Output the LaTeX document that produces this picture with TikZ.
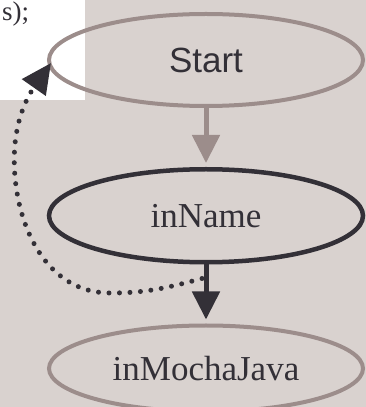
\documentclass[tikz,border=0pt]{standalone}
\usepackage{fontspec}
\setmainfont{Liberation Serif}
\setsansfont{Liberation Sans}
\usetikzlibrary{shapes.geometric,positioning,arrows.meta}
\definecolor{bgcol}{HTML}{D9D2CF}
\definecolor{edgegray}{HTML}{9C8D8B}
\definecolor{darkink}{HTML}{333037}

\begin{document}
\begin{tikzpicture}[x=1pt,y=1pt,
    state/.style={ellipse,draw,line width=4pt,inner sep=0pt,
      minimum width=314pt,minimum height=92pt,text=darkink,
      font=\fontsize{35}{42}\selectfont},
    flow/.style={line width=5pt,-{Triangle[length=28pt,width=27pt]},
      shorten >=4pt}]
      \fill[bgcol] (0,0) rectangle (366,407);
      \fill[white] (0,307) rectangle (85,407);
      \useasboundingbox (0,0) rectangle (366,407);

      \node[anchor=base west,inner sep=0pt,text=darkink,
        font=\fontsize{27}{32}\selectfont] (code) at (2,386) {s);};

      \node[state,draw=edgegray,font=\sffamily\fontsize{35}{42}\selectfont]
      (start) at (206,347) {\raisebox{-3pt}{Start}};
      \node[state,draw=darkink,line width=4.5pt,minimum height=93pt,
        below=59pt of start] (name) {\raisebox{-3pt}{inName}};
      \node[state,draw=edgegray,minimum height=86pt,below=59pt of name]
      (mocha) {inMochaJava};

      \draw[flow,edgegray] (start.south) -- (name.north);
      \draw[flow,darkink] (name.south) -- (mocha.north);

      % dotted loop back to Start
      \coordinate (loop) at ([xshift=-4pt,yshift=-14pt]name.south);
      \coordinate (low) at (110,114);
      \coordinate (bend) at (15,230);
      \draw[darkink,line width=5pt,line cap=round,
        dash pattern=on 0pt off 10.5pt,
        -{Triangle[length=30pt,width=28pt]}] (loop) to[out=195,in=0] (low)
      to[out=180,in=275] (bend)
      to[out=95,in=235] ([xshift=4pt,yshift=-3pt]start.west);
    \end{tikzpicture}
\end{document}
